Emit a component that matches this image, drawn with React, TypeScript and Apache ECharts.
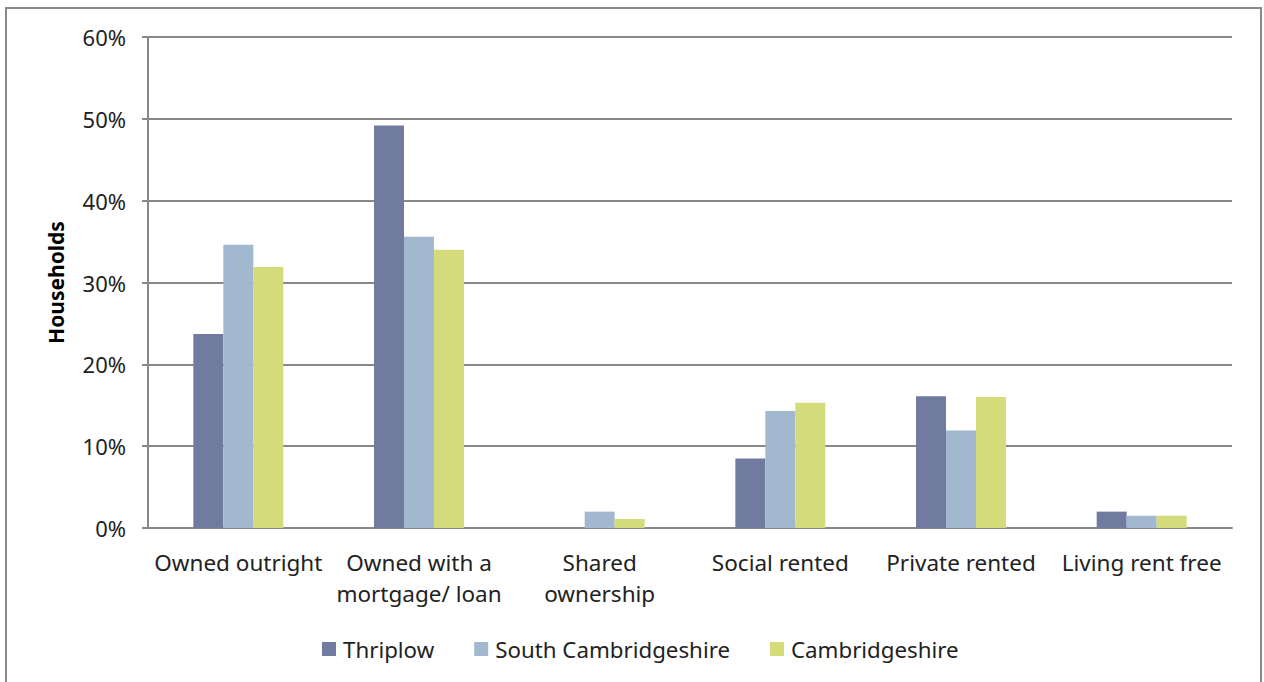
import React, { useEffect, useRef } from "react";
import * as echarts from "echarts";

const categories = [
  "Owned outright",
  "Owned with a\nmortgage/ loan",
  "Shared\nownership",
  "Social rented",
  "Private rented",
  "Living rent free",
];
const seriesNames = ["Thriplow", "South Cambridgeshire", "Cambridgeshire"];
const thriplow = [23.7, 49.2, 0, 8.5, 16.1, 2.0];
const southCambs = [34.6, 35.6, 2.0, 14.3, 11.9, 1.5];
const cambs = [31.9, 34.0, 1.1, 15.3, 16.0, 1.5];
const colors = ["#717BA0", "#A2B8CF", "#D4DB7B"];
const yTicks = [0, 10, 20, 30, 40, 50, 60];

const FONT = "Noto Sans";

export default function App() {
  const ref = useRef<HTMLDivElement>(null);
  useEffect(() => {
    if (!ref.current) return;
    const chart = echarts.init(ref.current, undefined, { renderer: "svg" });
    const data = [thriplow, southCambs, cambs];
    chart.setOption({
      animation: false,
      backgroundColor: "#ffffff",
      textStyle: { fontFamily: FONT },
      graphic: [
        {
          type: "rect",
          shape: { x: 6, y: 8, width: 1255, height: 690 },
          style: { fill: "none", stroke: "#898989", lineWidth: 2 },
          silent: true,
        },
      ],
      grid: { left: 148, right: 32, top: 37, bottom: 154, containLabel: false },
      legend: {
        top: 638,
        left: 322,
        padding: 0,
        icon: "rect",
        itemWidth: 14,
        itemHeight: 14,
        itemGap: 40,
        textStyle: { fontFamily: FONT, fontSize: 22.3, color: "#222", padding: [0, 0, 0, 2] },
        data: seriesNames,
      },
      xAxis: {
        type: "category",
        data: categories,
        axisLine: { lineStyle: { color: "#888", width: 2 } },
        axisTick: { show: false },
        axisLabel: {
          fontFamily: FONT,
          fontSize: 22.5,
          color: "#222",
          margin: 19,
          lineHeight: 31,
          interval: 0,
        },
      },
      yAxis: {
        type: "value",
        min: 0,
        max: 60,
        interval: 10,
        name: "Households",
        nameLocation: "middle",
        nameGap: 82,
        nameTextStyle: { fontFamily: FONT, fontSize: 21, fontWeight: "bold", color: "#000" },
        axisLine: { show: true, lineStyle: { color: "#888", width: 2 } },
        axisTick: { show: true, length: 6, lineStyle: { color: "#888", width: 2 } },
        splitLine: { lineStyle: { color: "#888", width: 2 } },
        axisLabel: {
          fontFamily: FONT,
          fontSize: 22,
          color: "#222",
          margin: 22,
          formatter: (v: number) => (yTicks.includes(v) ? v + "%" : ""),
        },
      },
      series: seriesNames.map((name, i) => ({
        name,
        type: "bar",
        data: data[i],
        barWidth: 30,
        barGap: "0%",
        itemStyle: { color: colors[i] },
      })),
    });
    return () => chart.dispose();
  }, []);
  return (
    <div
      ref={ref}
      style={{ position: "fixed", left: 0, top: 0, width: 1264, height: 682, background: "#fff" }}
    />
  );
}
